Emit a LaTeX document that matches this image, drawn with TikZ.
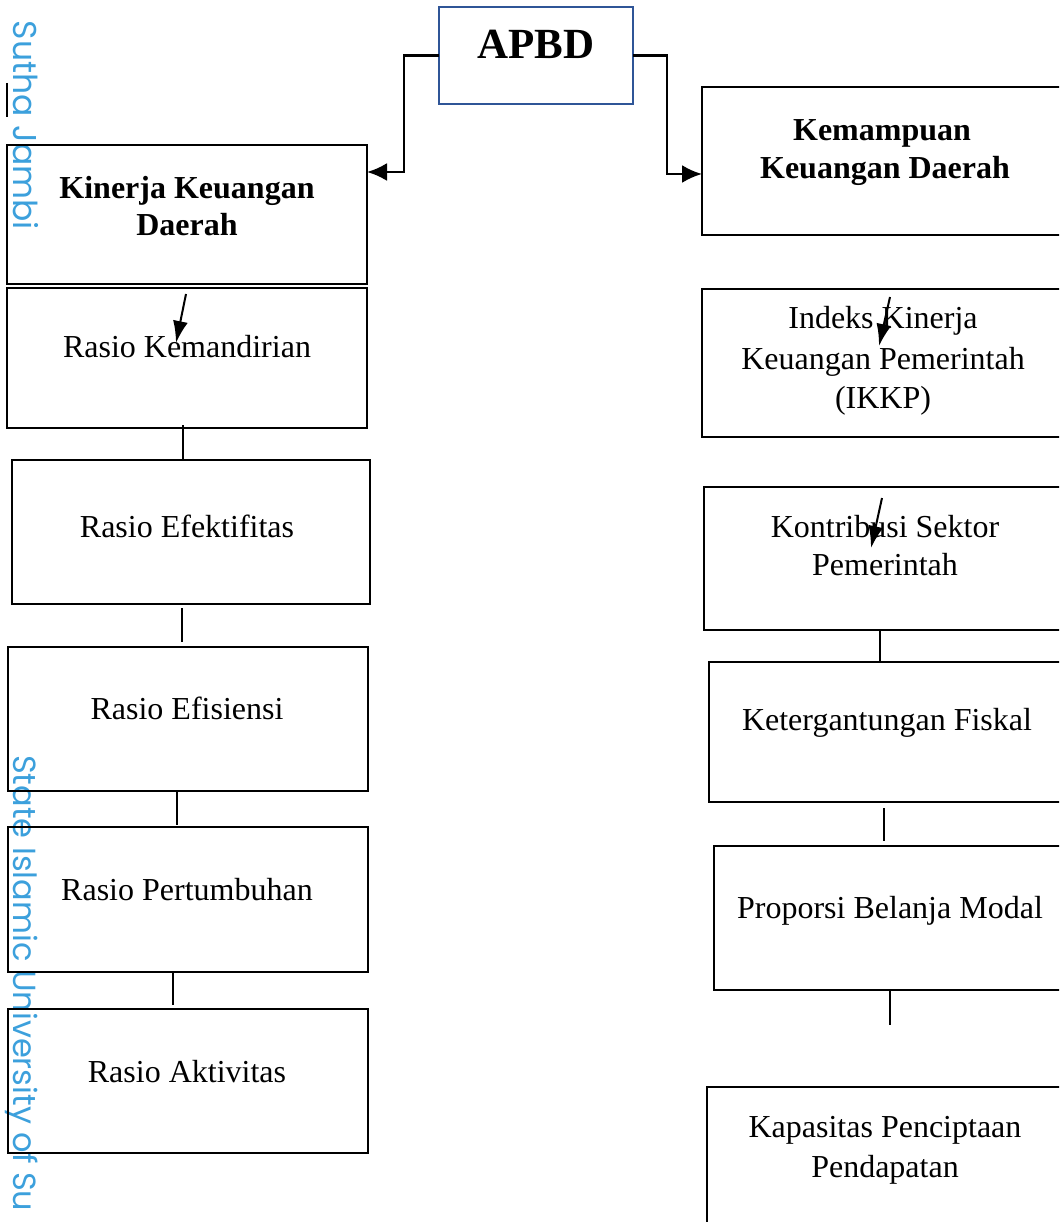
\documentclass[tikz,border=0pt]{standalone}
\usepackage{fontspec}
\setmainfont{Liberation Serif}
\newfontfamily\wmfont{Poppins}
\usetikzlibrary{arrows.meta}
\definecolor{wmblue}{RGB}{60,160,220}
\definecolor{apbdblue}{RGB}{47,85,151}
\begin{document}
\begin{tikzpicture}[x=1pt,y=-1pt,
  boxs/.style={draw=black, line width=2.8pt, anchor=north west, inner sep=0pt, outer sep=0pt},
  lbl/.style={font=\fontsize{32}{39}\selectfont, anchor=base, inner sep=0pt},
  blbl/.style={font=\fontsize{32}{38}\selectfont\bfseries, anchor=base, inner sep=0pt},
  link/.style={line width=1.3pt},
  mainarrow/.style={line width=2.5pt, -{Latex[length=20pt,width=18pt]}},
  smallarrow/.style={line width=2pt, -{Latex[length=22pt,width=15pt]}},
  wm/.style={text=wmblue, font=\wmfont\fontsize{33}{33}\selectfont, rotate=-90, inner sep=0pt}
]
\useasboundingbox (0,0) rectangle (1059,1222);
\clip (0,0) rectangle (1059,1222);

% watermark
\node[wm, anchor=base east] (wmtop) at (13,230) {Sutha Jambi};
\node[wm, anchor=base west, font=\wmfont\fontsize{32}{32}\selectfont] (wmbot) at (13,755) {State Islamic University of Su};
\coordinate (mk1) at (7,83);
\coordinate (mk2) at (7,117);
\draw[line width=1.5pt] (mk1) -- (mk2);

% top box
\node[boxs, draw=apbdblue, minimum width=194pt, minimum height=97pt] (apbd) at (439,7) {};
\node[anchor=base, inner sep=0pt, font=\fontsize{43}{43}\selectfont\bfseries] (apbdt) at (536,59) {APBD};

% left column boxes
\node[boxs, minimum width=360pt, minimum height=139pt] (kin) at (7,145) {};
\node[boxs, minimum width=360pt, minimum height=140pt] (kem) at (7,288) {};
\node[boxs, minimum width=358pt, minimum height=144pt] (efe) at (12,460) {};
\node[boxs, minimum width=360pt, minimum height=144pt] (efi) at (8,647) {};
\node[boxs, minimum width=360pt, minimum height=145pt] (per) at (8,827) {};
\node[boxs, minimum width=360pt, minimum height=144pt] (akt) at (8,1009) {};

% right column boxes
\node[boxs, minimum width=368pt, minimum height=148pt] (kmp) at (702,87) {};
\node[boxs, minimum width=368pt, minimum height=148pt] (ikkp) at (702,289) {};
\node[boxs, minimum width=366pt, minimum height=143pt] (kon) at (704,487) {};
\node[boxs, minimum width=361pt, minimum height=140pt] (ket) at (709,662) {};
\node[boxs, minimum width=356pt, minimum height=144pt] (pro) at (714,846) {};
\node[boxs, minimum width=363pt, minimum height=160pt] (kap) at (707,1087) {};

% left texts
\node[blbl] (kint1) at (187,199) {Kinerja Keuangan};
\node[blbl] (kint2) at (187,236) {Daerah};
\node[lbl] (kemt) at (187,357) {Rasio Kemandirian};
\node[lbl] (efet) at (187,537) {Rasio Efektifitas};
\node[lbl] (efit) at (187,719) {Rasio Efisiensi};
\node[lbl] (pert) at (187,900) {Rasio Pertumbuhan};
\node[lbl] (aktt) at (187,1082) {Rasio Aktivitas};

% right texts
\node[blbl] (kmpt1) at (882,141) {Kemampuan};
\node[blbl] (kmpt2) at (885,179) {Keuangan Daerah};
\node[lbl] (ikt1) at (883,328) {Indeks Kinerja};
\node[lbl] (ikt2) at (883,369) {Keuangan Pemerintah};
\node[lbl] (ikt3) at (883,408) {(IKKP)};
\node[lbl] (kont1) at (885,537) {Kontribusi Sektor};
\node[lbl] (kont2) at (885,575) {Pemerintah};
\node[lbl] (kett) at (887,730) {Ketergantungan Fiskal};
\node[lbl] (prot) at (890,918) {Proporsi Belanja Modal};
\node[lbl] (kapt1) at (885,1137) {Kapasitas Penciptaan};
\node[lbl] (kapt2) at (885,1177) {Pendapatan};

% main connectors
\draw[mainarrow] (apbd.west) -- (apbd.west -| 404,0) |- (kin.east |- 0,172);
\draw[mainarrow] (apbd.east) -- (apbd.east -| 667,0) |- (kmp.west |- 0,174);

% thin connectors
\draw[link] ([yshift=3pt]kem.south -| 183,0) -- (efe.north -| 183,0);
\draw[link] ([yshift=-4pt]efe.south -| 182,0) -- ([yshift=5pt]efi.north -| 182,0);
\draw[link] (efi.south -| 177,0) -- ([yshift=2pt]per.north -| 177,0);
\draw[link] (per.south -| 173,0) -- ([yshift=4pt]akt.north -| 173,0);
\draw[link] (kon.south -| 880,0) -- (ket.north -| 880,0);
\draw[link] ([yshift=-6pt]ket.south -| 884,0) -- ([yshift=5pt]pro.north -| 884,0);
\coordinate (dang) at (890,1025);
\draw[link] (pro.south -| 890,0) -- (dang);

% small decorative arrows
\coordinate (s1) at (186,294); \coordinate (e1) at (176,343);
\coordinate (s2) at (890,297); \coordinate (e2) at (879,346);
\coordinate (s3) at (882,498); \coordinate (e3) at (871,548);
\draw[smallarrow] (s1) -- (e1);
\draw[smallarrow] (s2) -- (e2);
\draw[smallarrow] (s3) -- (e3);
\end{tikzpicture}
\end{document}
